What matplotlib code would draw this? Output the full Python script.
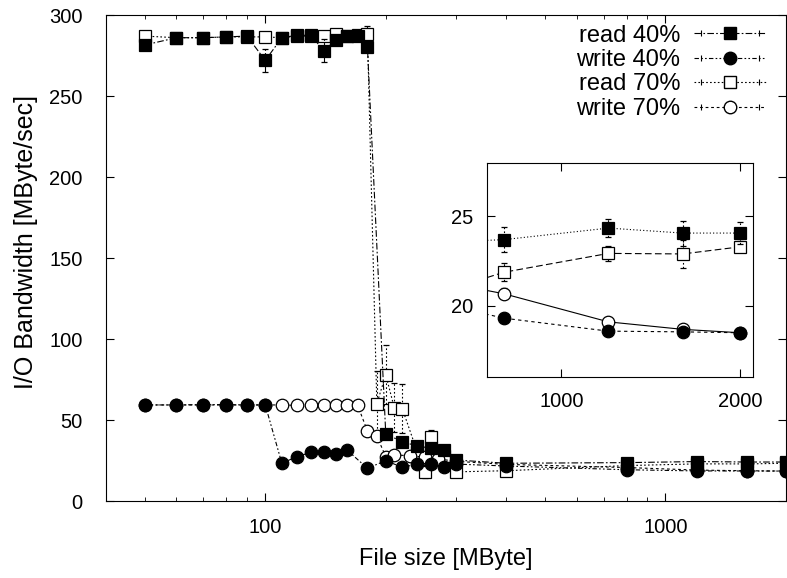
import matplotlib
matplotlib.use('Agg')
import matplotlib.pyplot as plt
from matplotlib.lines import Line2D
from matplotlib.legend_handler import HandlerLine2D, HandlerTuple
from matplotlib.ticker import FixedLocator, NullLocator, NullFormatter, FixedFormatter

plt.rcParams['font.family'] = ['Liberation Sans', 'DejaVu Sans']
plt.rcParams['font.size'] = 17

# read 40% (filled squares)
r40_x = [50, 60, 70, 80, 90, 100, 110, 120, 130, 140, 150, 160, 170, 180,
         200, 220, 240, 260, 280, 300, 400, 800, 1200, 1600, 2000]
r40_y = [281.5, 286, 286, 286.5, 287, 272, 286, 287.5, 287.5, 278, 284.5, 287, 287, 280,
         41.5, 36.5, 34, 32.5, 31.5, 25.3, 23.3, 23.7, 24.35, 24.07, 24.07]
r40_e = [2, 1.5, 1.5, 1.5, 1.5, 7, 1.5, 1.5, 1.5, 7, 3, 1.5, 2, 2,
         3, 3, 2, 2, 2, 1.5, 1, 0.7, 0.5, 0.7, 0.6]

# write 40% (filled circles)
w40_x = [50, 60, 70, 80, 90, 100, 110, 120, 130, 140, 150, 160, 180,
         200, 220, 240, 260, 280, 300, 400, 800, 1200, 1600, 2000]
w40_y = [59.3, 59.3, 59.5, 59.5, 59.3, 59.3, 23.3, 27.4, 30, 30, 29, 31.5, 20.2,
         24.9, 20.8, 22.8, 22.8, 20.8, 22.8, 21.6, 19.3, 18.57, 18.53, 18.48]
w40_e = [1, 1, 1, 1, 1, 1, 1, 1, 1, 1, 1, 1, 1.5,
         2, 1.5, 1.5, 1.5, 1.5, 1.5, 1, 0.3, 0.25, 0.2, 0.2]

# read 70% (open squares)
r70_x = [50, 60, 70, 80, 90, 100, 110, 120, 130, 140, 150, 160, 170, 180,
         190, 200, 210, 220, 240, 250, 260, 280, 300, 400, 800, 1200, 1600, 2000]
r70_y = [287, 286, 286, 286.5, 286.5, 286.5, 286, 287, 287, 287, 288.5, 287, 287.5, 288,
         60, 78, 57.6, 57, 30, 18, 39.7, 28, 18, 18.7, 21.87, 22.93, 22.9, 23.3]
r70_e = [1.5, 1.5, 1.5, 1.5, 1.5, 2, 1.5, 1.5, 1.5, 1.5, 1.5, 1.5, 2, 5,
         20, 18, 15, 15, 4, 4, 4, 4, 2, 1.5, 0.5, 0.4, 0.8, 0.3]

# write 70% (open circles)
w70_x = [50, 60, 70, 80, 90, 100, 110, 120, 130, 140, 150, 160, 170, 180,
         190, 200, 210, 230, 250, 270, 300, 400, 800, 1200, 1600, 2000]
w70_y = [59.3, 59.3, 59.3, 59.3, 59.3, 59.3, 59.3, 59, 59, 59.3, 59.3, 59.3, 59.3, 43.2,
         40, 27.4, 28.4, 28, 27, 26, 24.5, 22.6, 20.67, 19.09, 18.67, 18.48]
w70_e = [1, 1, 1, 1, 1, 1, 1, 1, 1, 1, 1, 1, 1, 2,
         3, 3, 3, 3, 3, 3, 2, 1, 0.3, 0.3, 0.2, 0.2]

labels = ['read 40%', 'write 40%', 'read 70%', 'write 70%']

# x, y, err, marker, face, main linestyle, inset linestyle, zorder (filled ones on top)
series = [
    (r40_x, r40_y, r40_e, 's', 'black', (0, (6, 2, 1.5, 2)), (0, (1, 2)), 4),
    (w40_x, w40_y, w40_e, 'o', 'black', (0, (4, 2, 1.5, 2, 1.5, 2)), (0, (3, 3)), 4),
    (r70_x, r70_y, r70_e, 's', 'white', (0, (1.5, 2)), (0, (6, 3)), 3),
    (w70_x, w70_y, w70_e, 'o', 'white', (0, (2.5, 2.5)), '-', 3),
]

fig = plt.figure(figsize=(7.87, 5.78), dpi=100)
ax = fig.add_axes([0.1347, 0.1332, 0.864, 0.8408])

handles = []
hmap = {}
for (x, y, e, m, fc, ls, ils, z), lab in zip(series, labels):
    eb = ax.errorbar(x, y, yerr=e, marker=m, markersize=9, markerfacecolor=fc,
                     markeredgecolor='black', markeredgewidth=0.9, color='black',
                     linestyle=ls, linewidth=0.8, elinewidth=0.8, capsize=2.5, zorder=z)
    eb[2][0].set_linestyle(ls)
    line = Line2D([], [], color='black', linestyle=ls, linewidth=0.8, marker=m,
                  markersize=9, markerfacecolor=fc, markeredgecolor='black')
    caps = Line2D([], [], color='black', linestyle='none', marker='|', markersize=5,
                  markeredgewidth=0.8)
    hmap[caps] = HandlerLine2D(numpoints=2)
    handles.append((line, caps))

ax.set_xscale('log')
ax.set_xlim(40, 2000)
ax.set_ylim(0, 300)
ax.set_yticks([0, 50, 100, 150, 200, 250, 300])
ax.xaxis.set_major_locator(FixedLocator([100, 1000]))
ax.xaxis.set_major_formatter(FixedFormatter(['100', '1000']))
ax.xaxis.set_minor_locator(FixedLocator([40, 50, 60, 70, 80, 90, 200, 300, 400, 500,
                                         600, 700, 800, 900]))
ax.xaxis.set_minor_formatter(NullFormatter())
ax.tick_params(which='major', direction='in', length=6, top=True, right=True, labelsize=14.5)
ax.tick_params(axis='x', which='major', pad=12)
ax.tick_params(axis='y', which='major', pad=17)
ax.tick_params(which='minor', direction='in', length=3, top=True, right=False)
ax.set_xlabel('File size [MByte]', labelpad=8)
ax.set_ylabel('I/O Bandwidth [MByte/sec]', fontsize=18)
ax.yaxis.set_label_coords(-0.1, 0.533)

handler_map = {tuple: HandlerTuple(ndivide=1)}
handler_map.update(hmap)
ax.legend(handles, labels, handler_map=handler_map, loc='upper right',
          bbox_to_anchor=(0.971, 0.98), frameon=False, markerfirst=False,
          handlelength=3.05, labelspacing=0.1, handletextpad=0.6, borderpad=0,
          borderaxespad=0)

# inset
ins = fig.add_axes([0.6188, 0.3478, 0.338, 0.3702])
for x, y, e, m, fc, ls, ils, z in series:
    eb = ins.errorbar(x, y, yerr=e, marker=m, markersize=9, markerfacecolor=fc,
                      markeredgecolor='black', markeredgewidth=0.9, color='black',
                      linestyle=ils, linewidth=0.8, elinewidth=0.8, capsize=2.5, zorder=z)
    eb[2][0].set_linestyle((0, (1.5, 2)))
ins.set_xscale('log')
ins.set_xlim(750, 2100)
ins.set_ylim(16, 28)
ins.xaxis.set_major_locator(FixedLocator([1000, 2000]))
ins.xaxis.set_major_formatter(FixedFormatter(['1000', '2000']))
ins.xaxis.set_minor_locator(NullLocator())
ins.set_yticks([20, 25])
ins.tick_params(which='major', direction='in', length=6, top=True, right=True,
                labelsize=14.5)
ins.tick_params(axis='x', pad=11)
ins.tick_params(axis='y', pad=10)

fig.savefig('out.png', dpi=100)
